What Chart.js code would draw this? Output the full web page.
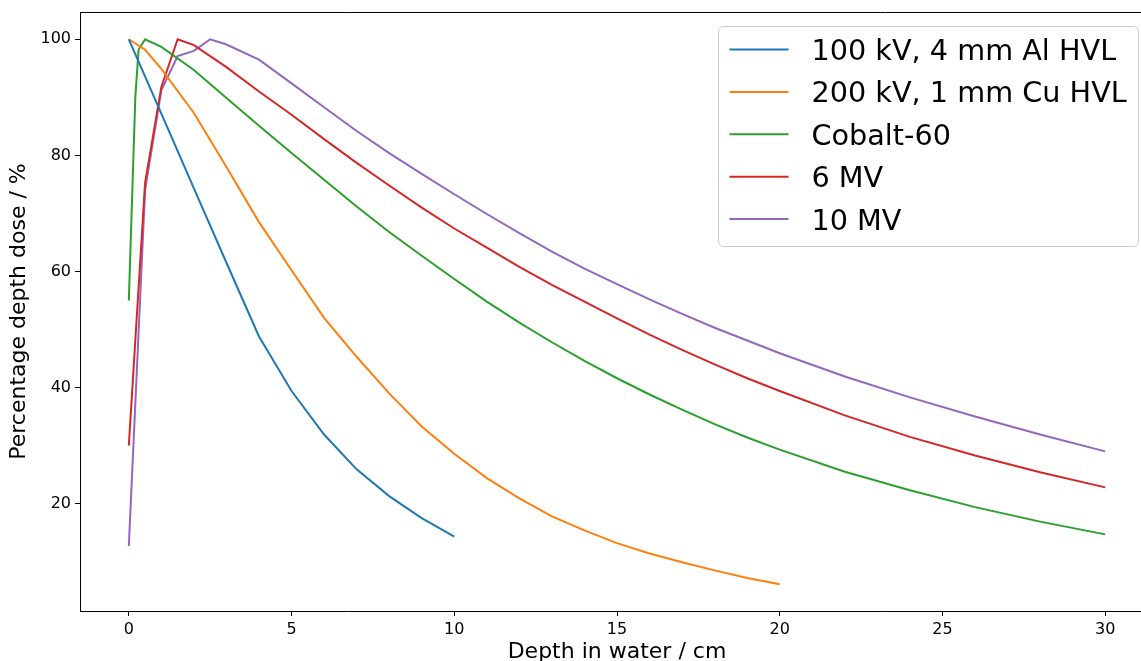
<!DOCTYPE html>
<html>
<head>
<meta charset="utf-8">
<script src="https://cdn.jsdelivr.net/npm/chart.js@4.4.1/dist/chart.umd.min.js"></script>
<style>
  html, body { margin: 0; padding: 0; background: #fff; overflow: hidden; }
  /* the plot runs a little past the right edge of the window, as in the reference */
  #wrap { position: relative; width: 1160px; height: 661px; }
</style>
</head>
<body>
<div id="wrap"><canvas id="pdd"></canvas></div>
<script>
// depth dose curves
const depthKV100 = [0, 1, 2, 3, 4, 5, 6, 7, 8, 9, 10];
const doseKV100 = [100, 87.2, 74.3, 61.5, 48.8, 39.4, 31.9, 25.9, 21.3, 17.5, 14.3];

const depthKV200 = [0, 0.5, 1, 2, 3, 4, 5, 6, 7, 8, 9, 10, 11, 12, 13, 14, 15, 16, 17, 18, 19, 20];
const doseKV200 = [100, 98.2, 94.9, 87.3, 78, 68.5, 60.2, 52, 45.3, 39, 33.3, 28.6, 24.4, 20.9, 17.8, 15.4, 13.2, 11.4, 9.9, 8.5, 7.2, 6.1];

const depthCo60 = [0, 0.2, 0.3, 0.5, 1, 2, 3, 4, 5, 6, 7, 8, 9, 10, 11, 12, 13, 14, 15, 16, 17, 18, 19, 20, 22, 24, 26, 28, 30];
const doseCo60 = [55, 90, 98.2, 100, 98.7, 94.7, 89.9, 85.1, 80.4, 75.8, 71.2, 66.8, 62.7, 58.7, 54.8, 51.2, 47.8, 44.6, 41.6, 38.8, 36.2, 33.7, 31.4, 29.3, 25.5, 22.3, 19.4, 16.9, 14.7];

const depth6MV = [0, 0.5, 1, 1.5, 2, 3, 4, 5, 6, 7, 8, 9, 10, 11, 12, 13, 14, 15, 16, 17, 18, 19, 20, 22, 24, 26, 28, 30];
const dose6MV = [30, 75.3, 91.8, 100, 99, 95.2, 91, 87, 82.8, 78.7, 74.8, 71, 67.4, 64.1, 60.8, 57.7, 54.8, 51.9, 49.1, 46.5, 44, 41.6, 39.4, 35.2, 31.5, 28.3, 25.4, 22.8];

const depth10MV = [0, 0.5, 1, 1.5, 2, 2.5, 3, 4, 5, 6, 7, 8, 9, 10, 11, 12, 13, 14, 15, 16, 17, 18, 19, 20, 22, 24, 26, 28, 30];
const dose10MV = [12.7, 74, 91.2, 97.1, 98, 100, 99.1, 96.5, 92.4, 88.3, 84.2, 80.4, 76.8, 73.3, 69.9, 66.6, 63.4, 60.5, 57.8, 55.2, 52.7, 50.3, 48.1, 45.9, 41.9, 38.3, 35, 31.9, 29];

const seriesNames = ['100 kV, 4 mm Al HVL', '200 kV, 1 mm Cu HVL', 'Cobalt-60', '6 MV', '10 MV'];
const seriesColors = ['#1f77b4', '#ff7f0e', '#2ca02c', '#d62728', '#9467bd'];

const xTicks = [0, 5, 10, 15, 20, 25, 30];
const yTicks = [20, 40, 60, 80, 100];

const FONT = "'DejaVu Sans', sans-serif";

function pts(xs, ys) {
  return xs.map((x, i) => ({ x: x, y: ys[i] }));
}

const allDepths = [depthKV100, depthKV200, depthCo60, depth6MV, depth10MV];
const allDoses = [doseKV100, doseKV200, doseCo60, dose6MV, dose10MV];

const datasets = seriesNames.map((name, i) => ({
  label: name,
  data: pts(allDepths[i], allDoses[i]),
  borderColor: seriesColors[i],
  backgroundColor: seriesColors[i],
  borderWidth: 2,
  pointRadius: 0,
  tension: 0,
  fill: false
}));

// top spine
const topSpine = {
  id: 'topSpine',
  afterDraw(chart) {
    const { ctx, chartArea } = chart;
    ctx.save();
    ctx.strokeStyle = '#000';
    ctx.lineWidth = 1;
    ctx.beginPath();
    ctx.moveTo(chartArea.left, chartArea.top + 0.5);
    ctx.lineTo(chartArea.right, chartArea.top + 0.5);
    ctx.stroke();
    ctx.restore();
  }
};

// matplotlib style legend box in the upper right corner
const legendBox = {
  id: 'legendBox',
  afterDatasetsDraw(chart) {
    const { ctx, chartArea } = chart;
    const w = 420, h = 220;
    const x0 = chartArea.right - 16 - w + 0.5;
    const y0 = chartArea.top + 14 + 0.5;
    const fs = 28.7;
    ctx.save();
    ctx.beginPath();
    ctx.roundRect(x0, y0, w, h, 5);
    ctx.fillStyle = 'rgba(255,255,255,0.8)';
    ctx.fill();
    ctx.strokeStyle = '#cccccc';
    ctx.lineWidth = 1;
    ctx.stroke();
    ctx.font = fs + 'px ' + FONT;
    ctx.textBaseline = 'alphabetic';
    ctx.textAlign = 'left';
    chart.data.datasets.forEach((ds, i) => {
      const ly = y0 + 23 + i * 42.4;
      ctx.strokeStyle = ds.borderColor;
      ctx.lineWidth = 2;
      ctx.beginPath();
      ctx.moveTo(x0 + 11, ly);
      ctx.lineTo(x0 + 70, ly);
      ctx.stroke();
      ctx.fillStyle = '#000';
      ctx.fillText(ds.label, x0 + 93, ly + fs * 0.365);
    });
    ctx.restore();
  }
};

new Chart(document.getElementById('pdd'), {
  type: 'line',
  data: { datasets: datasets },
  options: {
    responsive: true,
    maintainAspectRatio: false,
    animation: false,
    events: [],
    layout: { padding: { top: 12, right: 6, left: 0, bottom: 0 } },
    plugins: {
      legend: { display: false },
      tooltip: { enabled: false }
    },
    scales: {
      x: {
        type: 'linear',
        min: -1.5,
        max: 31.5,
        afterFit: (s) => { s.height = 50; s.paddingLeft = 0; s.paddingRight = 0; },
        afterBuildTicks: (s) => { s.ticks = xTicks.map(v => ({ value: v })); },
        grid: { drawOnChartArea: false, tickLength: 5, tickColor: '#000', tickWidth: 1 },
        border: { display: true, color: '#000', width: 1 },
        ticks: { padding: 4, color: '#000', font: { family: FONT, size: 16 }, maxRotation: 0 },
        title: {
          display: true,
          text: 'Depth in water / cm',
          color: '#000',
          font: { family: FONT, size: 22, lineHeight: 1 },
          padding: { top: 0, bottom: -2 }
        }
      },
      y: {
        type: 'linear',
        min: 1.5,
        max: 104.7,
        afterFit: (s) => { s.width = 80; s.paddingTop = 0; s.paddingBottom = 0; },
        afterBuildTicks: (s) => { s.ticks = yTicks.map(v => ({ value: v })); },
        grid: { drawOnChartArea: false, tickLength: 5, tickColor: '#000', tickWidth: 1 },
        border: { display: true, color: '#000', width: 1 },
        ticks: { padding: 4, color: '#000', font: { family: FONT, size: 16 } },
        title: {
          display: true,
          text: 'Percentage depth dose / %',
          color: '#000',
          font: { family: FONT, size: 22, lineHeight: 1 },
          padding: { top: 8, bottom: 0 }
        }
      }
    }
  },
  plugins: [topSpine, legendBox]
});
</script>
</body>
</html>
